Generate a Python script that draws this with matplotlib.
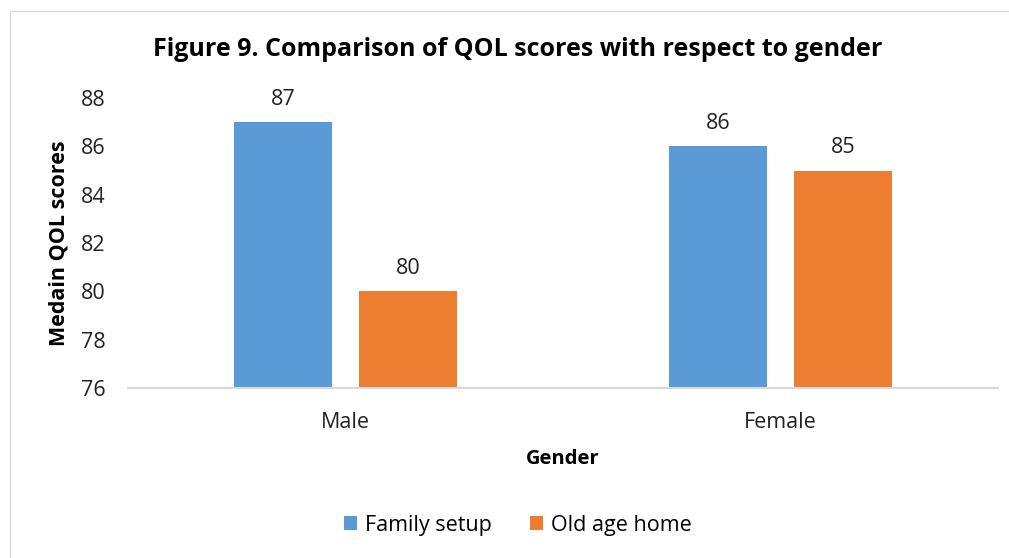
import matplotlib.pyplot as plt
from matplotlib.patches import Rectangle
import numpy as np

genders = ['Male', 'Female']
family_setup = [87, 86]
old_age_home = [80, 85]

plt.rcParams['font.family'] = ['Open Sans', 'DejaVu Sans']

fig = plt.figure(figsize=(10.09, 5.58), dpi=100)
ax = fig.add_axes([128 / 1009, 170 / 558, 870 / 1009, 290 / 558])

x = np.arange(len(genders))
w = 0.225
gap = 0.062
off = (w + gap) / 2
b1 = ax.bar(x - off, family_setup, w, color='#5B9BD5', label='Family setup')
b2 = ax.bar(x + off, old_age_home, w, color='#ED7D31', label='Old age home')

for bars in (b1, b2):
    for bar in bars:
        h = bar.get_height()
        ax.text(bar.get_x() + bar.get_width() / 2, h + 0.5, f'{h:g}',
                ha='center', va='bottom', fontsize=15.5, color='#222222')

ax.set_xlim(-0.5, 1.5)
ax.set_ylim(76, 88)
ax.set_yticks(range(76, 89, 2))
ax.set_xticks(x)
ax.set_xticklabels(genders)
ax.tick_params(axis='both', length=0, labelsize=15.5, colors='#222222')
ax.tick_params(axis='y', pad=16)
ax.tick_params(axis='x', pad=17)
for s in ['top', 'right', 'left']:
    ax.spines[s].set_visible(False)
ax.spines['bottom'].set_color('#D9D9D9')
ax.spines['bottom'].set_linewidth(1.5)

ax.set_xlabel('Gender', fontsize=14.5, fontweight='bold', labelpad=12)
ax.set_ylabel('Medain QOL scores', fontsize=15.5, fontweight='bold', labelpad=8)
fig.text(518 / 1009, 1 - 50 / 558, 'Figure 9. Comparison of QOL scores with respect to gender',
         ha='center', va='center', fontsize=18, fontweight='bold')

ax.legend(loc='center', bbox_to_anchor=(518 / 1009, 1 - 525 / 558),
          bbox_transform=fig.transFigure, ncol=2, frameon=False,
          fontsize=15.5, handlelength=0.6, handleheight=0.6, columnspacing=1.8,
          handletextpad=0.35)

fig.add_artist(Rectangle((10 / 1009, -0.05), 1.0, 1 - 11 / 558 + 0.05,
                         transform=fig.transFigure, fill=False,
                         edgecolor='#D9D9D9', linewidth=1))

fig.savefig('out.png', dpi=100)
